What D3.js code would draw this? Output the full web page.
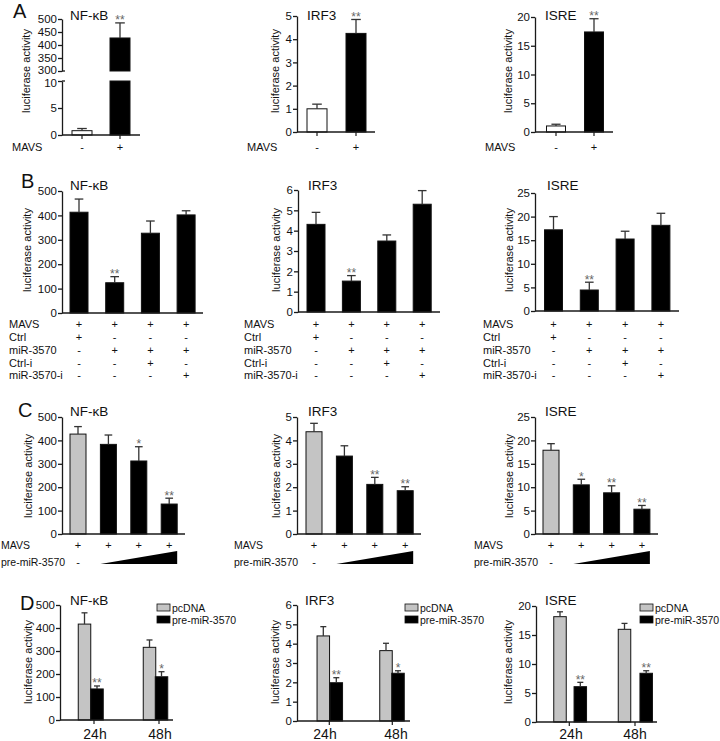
<!DOCTYPE html>
<html><head><meta charset="utf-8">
<script src="https://cdn.jsdelivr.net/npm/d3@7"></script>
<style>body{margin:0;background:#fff}svg{display:block}text{font-family:"Liberation Sans",Arial,sans-serif;fill:#111}</style>
</head><body><svg id="c" width="720" height="741"></svg>
<script>
// ---------- DATA ----------
const genes = ["NF-κB", "IRF3", "ISRE"];
const yLabel = "luciferase activity";

// Panel A : MAVS - / +
const aMAVS = ["-", "+"];
const aMean = [[0.8, 427], [1.0, 4.25], [1.05, 17.4]];
const aSD = [[0.4, 58], [0.2, 0.6], [0.3, 2.3]];
const aStars = [["", "**"], ["", "**"], ["", "**"]];
const aLowTicks = [0, 5, 10];          // NF-κB broken axis, lower part
const aHighTicks = [300, 350, 400, 450, 500]; // NF-κB broken axis, upper part
const aYMax = [500, 5, 20];
const aYStep = [50, 1, 5];

// Panel B
const bRowLabels = ["MAVS", "Ctrl", "miR-3570", "Ctrl-i", "miR-3570-i"];
const bRows = [["+", "+", "+", "+"], ["+", "-", "-", "-"], ["-", "+", "+", "+"], ["-", "-", "+", "-"], ["-", "-", "-", "+"]];
const bMean = [[413, 124, 327, 402], [4.31, 1.52, 3.49, 5.3], [17.2, 4.45, 15.25, 18.15]];
const bSD = [[54, 25, 50, 17], [0.59, 0.27, 0.3, 0.67], [2.8, 1.65, 1.65, 2.55]];
const bStars = [["", "**", "", ""], ["", "**", "", ""], ["", "**", "", ""]];
const bYMax = [500, 6, 25];
const bYStep = [100, 1, 5];

// Panel C
const cRowLabels = ["MAVS", "pre-miR-3570"];
const cMAVS = ["+", "+", "+", "+"];
const cPre = ["-"];
const cMean = [[427, 383, 312, 128], [4.37, 3.33, 2.12, 1.85], [17.9, 10.5, 8.8, 5.3]];
const cSD = [[32, 40, 61, 25], [0.36, 0.44, 0.3, 0.17], [1.4, 1.2, 1.5, 0.8]];
const cStars = [["", "", "*", "**"], ["", "", "**", "**"], ["", "*", "**", "**"]];
const cYMax = [500, 5, 25];
const cYStep = [100, 1, 5];

// Panel D
const dTimes = ["24h", "48h"];
const dSeries = ["pcDNA", "pre-miR-3570"];
const dPcMean = [[417, 316], [4.4, 3.64], [18.16, 15.98]];
const dPcSD = [[49, 32], [0.48, 0.38], [0.84, 1.02]];
const dPreMean = [[135, 188], [1.98, 2.47], [6.09, 8.4]];
const dPreSD = [[13, 22], [0.26, 0.13], [0.75, 0.44]];
const dStars = [["**", "*"], ["**", "*"], ["**", "**"]];
const dYMax = [500, 6, 20];
const dYStep = [100, 1, 5];

// ---------- STYLE / LAYOUT ----------
const GRAY = "#c4c4c4", BLACK = "#000", WHITE = "#fff";
const AXC = "#1a1a1a";
const svg = d3.select("#c");

function yAxis(ax, scale, ticks) {
  const g = svg.append("g").attr("transform", `translate(${ax},0)`)
    .call(d3.axisLeft(scale).tickValues(ticks).tickSize(4).tickSizeOuter(0).tickPadding(1).tickFormat(d3.format("d")));
  g.selectAll("text").attr("font-size", 11.5).style("fill", "#111");
  g.selectAll("line,path").attr("stroke", AXC).attr("stroke-width", 1.3);
  return g;
}
function xLine(ax, xEnd, y0, ticks) {
  svg.append("line").attr("x1", ax).attr("x2", xEnd).attr("y1", y0).attr("y2", y0)
    .attr("stroke", AXC).attr("stroke-width", 1.3);
  (ticks || []).forEach(x => svg.append("line").attr("x1", x).attr("x2", x).attr("y1", y0).attr("y2", y0 + 4)
    .attr("stroke", AXC).attr("stroke-width", 1.2));
}
function bars(centers, bw, y, y0, means, fills) {
  svg.append("g").selectAll("rect").data(means).join("rect")
    .attr("x", (d, i) => centers[i] - bw / 2).attr("y", d => y(d))
    .attr("width", bw).attr("height", d => y0 - y(d))
    .attr("fill", (d, i) => fills[i]).attr("stroke", "#111").attr("stroke-width", 1);
}
function errs(centers, bw, y, means, sds, stars) {
  const g = svg.append("g");
  means.forEach((m, i) => {
    const yt = y(m + sds[i]), yb = y(m), cw = bw * 0.24;
    g.append("line").attr("x1", centers[i]).attr("x2", centers[i]).attr("y1", yb).attr("y2", yt)
      .attr("stroke", "#333").attr("stroke-width", 1.3);
    g.append("line").attr("x1", centers[i] - cw).attr("x2", centers[i] + cw).attr("y1", yt).attr("y2", yt)
      .attr("stroke", "#333").attr("stroke-width", 1.3);
    if (stars && stars[i]) g.append("text").attr("x", centers[i]).attr("y", yt + 1.5)
      .attr("text-anchor", "middle").attr("font-size", 12).style("fill", "#666").text(stars[i]);
  });
}
function title(x, y, t) {
  svg.append("text").attr("x", x).attr("y", y).attr("font-size", 13.5).text(t);
}
function ylab(x, cy) {
  svg.append("text").attr("transform", `translate(${x},${cy}) rotate(-90)`)
    .attr("text-anchor", "middle").attr("font-size", 11).text(yLabel);
}
function letter(x, y, t) {
  svg.append("text").attr("x", x).attr("y", y).attr("font-size", 20).text(t);
}
function rowText(x, y, t, anchor, size) {
  svg.append("text").attr("x", x).attr("y", y).attr("font-size", size || 11)
    .attr("text-anchor", anchor || "start").text(t);
}
const ticksOf = (max, step) => d3.range(0, max + step / 2, step);

// ---------- PANEL A ----------
letter(13, 18, "A");
const aLay = [
  { ax: 62, y0: 135, xEnd: 140, c: [82, 120], bw: 20, tx: 70, lx: 30, mx: 12 },
  { ax: 297, y0: 132, yTop: 16, xEnd: 375, c: [317, 356], bw: 20, tx: 307, lx: 279, mx: 247 },
  { ax: 535, y0: 132, yTop: 17, xEnd: 613, c: [556, 594], bw: 19, tx: 545, lx: 512, mx: 485 }
];
aLay.forEach((L, k) => {
  const fills = [WHITE, BLACK];
  if (k === 0) {
    // broken axis
    const lowTop = aLowTicks[aLowTicks.length - 1];
    const yLow = d3.scaleLinear().domain([0, lowTop]).range([L.y0, 81]);
    const yHigh = d3.scaleLinear().domain([aHighTicks[0], aYMax[0]]).range([71, 19]);
    const gl = yAxis(L.ax, yLow, aLowTicks);
    const gh = yAxis(L.ax, yHigh, aHighTicks);
    gl.selectAll(".tick text").filter(d => d === lowTop).attr("dy", "0.45em");
    gh.selectAll(".tick text").filter(d => d === aHighTicks[0]).attr("dy", "0.2em");
    [81, 71].forEach(yy => svg.append("line").attr("x1", L.ax).attr("x2", L.ax + 3).attr("y1", yy).attr("y2", yy)
      .attr("stroke", AXC).attr("stroke-width", 1.3));
    bars([L.c[0]], L.bw, yLow, L.y0, [aMean[0][0]], [fills[0]]);
    errs([L.c[0]], L.bw, yLow, [aMean[0][0]], [aSD[0][0]], [aStars[0][0]]);
    // black bar split in two pieces across the break
    svg.append("rect").attr("x", L.c[1] - L.bw / 2).attr("y", yLow(lowTop)).attr("width", L.bw)
      .attr("height", L.y0 - yLow(lowTop)).attr("fill", BLACK).attr("stroke", "#111");
    svg.append("rect").attr("x", L.c[1] - L.bw / 2).attr("y", yHigh(aMean[0][1])).attr("width", L.bw)
      .attr("height", yHigh(aHighTicks[0]) - yHigh(aMean[0][1])).attr("fill", BLACK).attr("stroke", "#111");
    errs([L.c[1]], L.bw, yHigh, [aMean[0][1]], [aSD[0][1]], [aStars[0][1]]);
  } else {
    const y = d3.scaleLinear().domain([0, aYMax[k]]).range([L.y0, L.yTop]);
    yAxis(L.ax, y, ticksOf(aYMax[k], aYStep[k]));
    bars(L.c, L.bw, y, L.y0, aMean[k], fills);
    errs(L.c, L.bw, y, aMean[k], aSD[k], aStars[k]);
  }
  xLine(L.ax, L.xEnd, L.y0, L.c);
  title(L.tx, 20, genes[k]);
  ylab(L.lx, 71);
  rowText(L.mx, 151, "MAVS");
  aMAVS.forEach((s, i) => rowText(L.c[i], 151, s, "middle"));
});

// ---------- PANEL B ----------
letter(21, 188, "B");
const bRowY = [328, 341, 354, 367, 379];
const bLay = [
  { ax: 62, y0: 313, yTop: 191, xEnd: 203, c0: 79, step: 35.7, tx: 70, lx: 31, mx: 9 },
  { ax: 298, y0: 312, yTop: 190, xEnd: 440, c0: 316, step: 35.4, tx: 308, lx: 280, mx: 244 },
  { ax: 535, y0: 311, yTop: 193, xEnd: 679, c0: 553.5, step: 35.8, tx: 547, lx: 513, mx: 483 }
];
bLay.forEach((L, k) => {
  const c = d3.range(4).map(i => L.c0 + i * L.step), bw = 18;
  const y = d3.scaleLinear().domain([0, bYMax[k]]).range([L.y0, L.yTop]);
  yAxis(L.ax, y, ticksOf(bYMax[k], bYStep[k]));
  bars(c, bw, y, L.y0, bMean[k], [BLACK, BLACK, BLACK, BLACK]);
  errs(c, bw, y, bMean[k], bSD[k], bStars[k]);
  xLine(L.ax, L.xEnd, L.y0);
  title(L.tx, 190, genes[k]);
  ylab(L.lx, 250);
  bRowLabels.forEach((lab, r) => {
    rowText(L.mx, bRowY[r], lab);
    bRows[r].forEach((s, j) => rowText(c[j], bRowY[r], s, "middle"));
  });
});

// ---------- PANEL C ----------
letter(18, 417, "C");
const cRowY = [549, 566];
const cLay = [
  { ax: 62, y0: 534, yTop: 417, xEnd: 185, c0: 78, step: 30.4, tx: 70, lx: 32, mx: 1 },
  { ax: 297, y0: 534, yTop: 417, xEnd: 421, c0: 314, step: 30.4, tx: 308, lx: 280, mx: 234 },
  { ax: 535, y0: 534, yTop: 417, xEnd: 658, c0: 551, step: 30.3, tx: 545, lx: 513, mx: 474 }
];
cLay.forEach((L, k) => {
  const c = d3.range(4).map(i => L.c0 + i * L.step), bw = 16;
  const y = d3.scaleLinear().domain([0, cYMax[k]]).range([L.y0, L.yTop]);
  yAxis(L.ax, y, ticksOf(cYMax[k], cYStep[k]));
  bars(c, bw, y, L.y0, cMean[k], [GRAY, BLACK, BLACK, BLACK]);
  errs(c, bw, y, cMean[k], cSD[k], cStars[k]);
  xLine(L.ax, L.xEnd, L.y0);
  title(L.tx, 416, genes[k]);
  ylab(L.lx, 476);
  rowText(L.mx, cRowY[0], cRowLabels[0], "start", 10.5);
  rowText(L.mx, cRowY[1], cRowLabels[1], "start", 10.5);
  cMAVS.forEach((s, j) => rowText(c[j], cRowY[0], s, "middle"));
  cPre.forEach((s, j) => rowText(c[j], cRowY[1], s, "middle"));
  const x1 = c[1] - bw / 2, x2 = c[3] + bw / 2, yb = 564;
  svg.append("path").attr("d", `M${x1},${yb}L${x2},${yb}L${x2},${yb - 13}Z`).attr("fill", "#000");
});

// ---------- PANEL D ----------
letter(20, 610, "D");
const dLay = [
  { ax: 60, y0: 720, yTop: 605, xEnd: 173, gray: [84.5, 149.5], blk: [97, 161.5], t: [94, 159], tl: [95, 160], tx: 70, lx: 32, lgx: 157 },
  { ax: 297, y0: 721, yTop: 605, xEnd: 410, gray: [323.3, 386], blk: [336.3, 398], t: [329.3, 392.3], tl: [325, 396], tx: 305, lx: 279, lgx: 405 },
  { ax: 536, y0: 722, yTop: 606, xEnd: 657, gray: [560, 624.5], blk: [580.3, 646.2], t: [569.3, 635], tl: [571, 635], tx: 545, lx: 512, lgx: 640 }
];
dLay.forEach((L, k) => {
  const bw = 12.5;
  const y = d3.scaleLinear().domain([0, dYMax[k]]).range([L.y0, L.yTop]);
  yAxis(L.ax, y, ticksOf(dYMax[k], dYStep[k]));
  bars(L.gray, bw, y, L.y0, dPcMean[k], [GRAY, GRAY]);
  bars(L.blk, bw, y, L.y0, dPreMean[k], [BLACK, BLACK]);
  errs(L.gray, bw, y, dPcMean[k], dPcSD[k], null);
  errs(L.blk, bw, y, dPreMean[k], dPreSD[k], dStars[k]);
  xLine(L.ax, L.xEnd, L.y0, L.t);
  dTimes.forEach((t, i) => svg.append("text").attr("x", L.tl[i]).attr("y", 739).attr("text-anchor", "middle")
    .attr("font-size", 14).text(t));
  title(L.tx, 605, genes[k]);
  ylab(L.lx, 662);
  dSeries.forEach((s, i) => {
    svg.append("rect").attr("x", L.lgx).attr("y", 604 + i * 12).attr("width", 13).attr("height", 7)
      .attr("fill", i === 0 ? GRAY : BLACK).attr("stroke", "#111").attr("stroke-width", 0.8);
    svg.append("text").attr("x", L.lgx + 15).attr("y", 611.5 + i * 12).attr("font-size", 10.5).text(s);
  });
});
</script></body></html>
